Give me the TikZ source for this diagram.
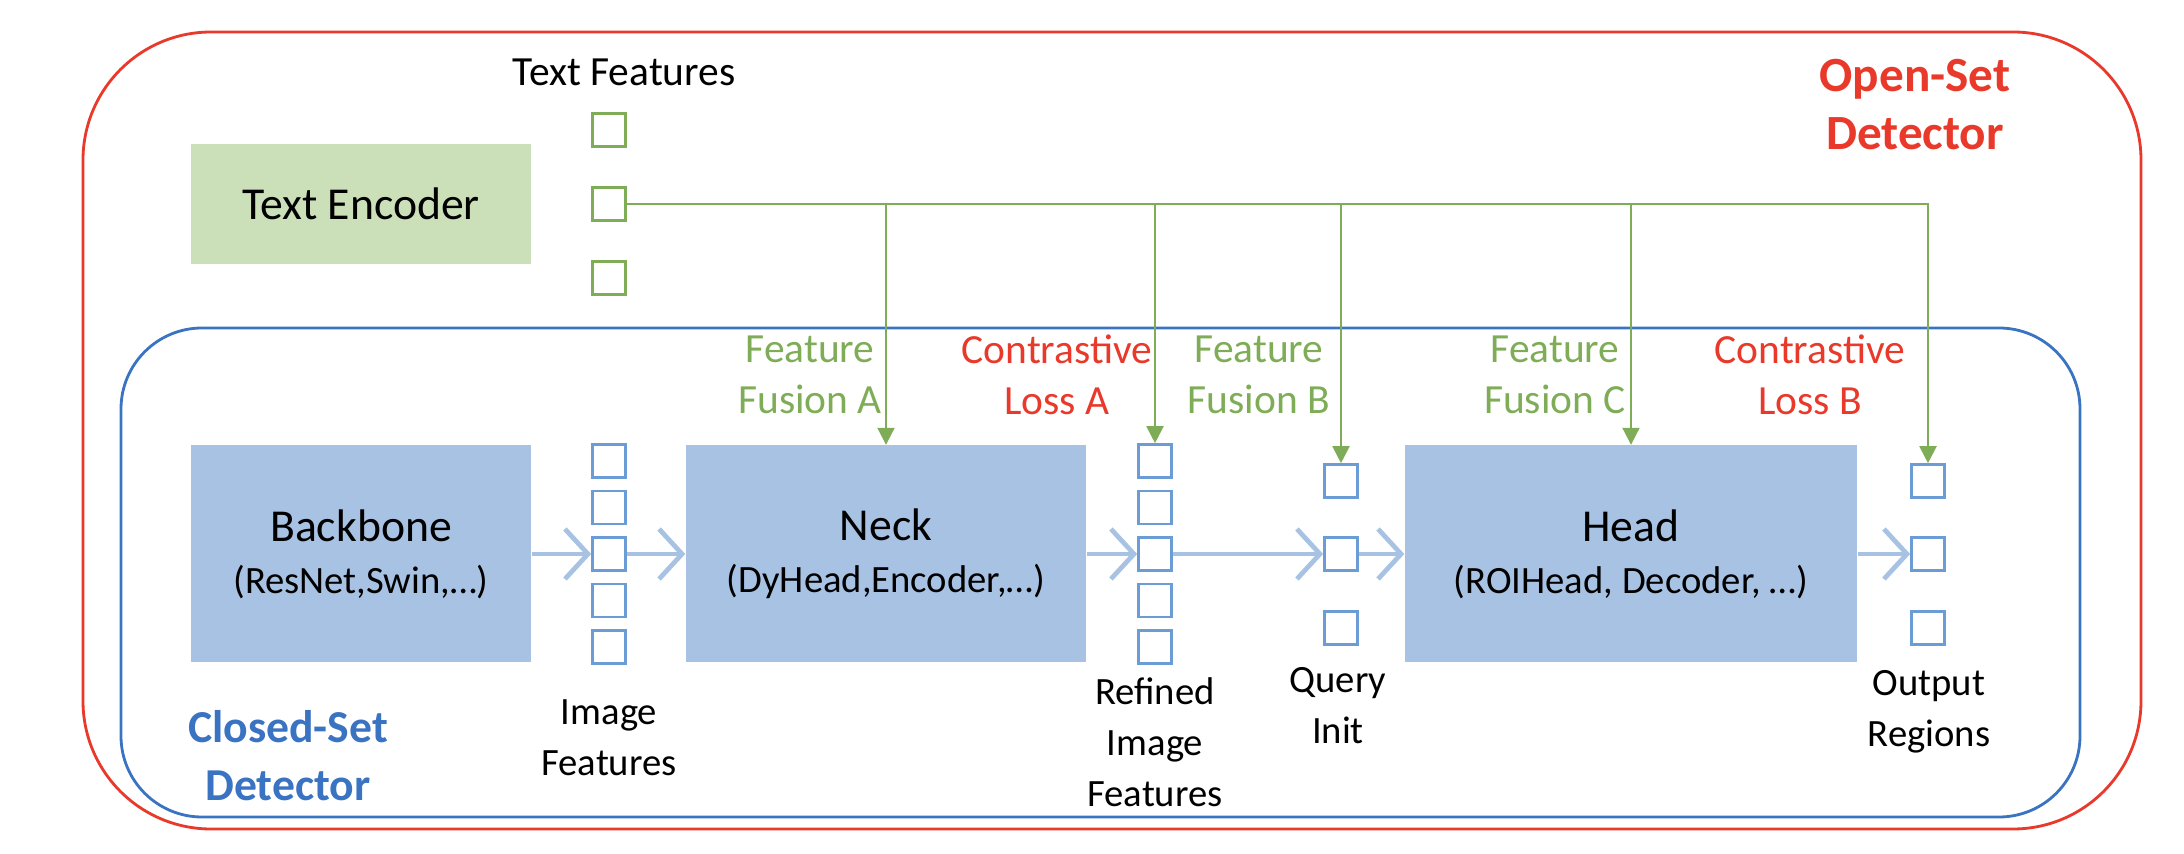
\documentclass[tikz,border=0pt]{standalone}
\usepackage{fontspec}
\setmainfont{Carlito}
\usepackage{tikz}
\usetikzlibrary{arrows.meta}
\definecolor{openred}{HTML}{E8392A}
\definecolor{closedblue}{HTML}{3A73C2}
\definecolor{stagefill}{HTML}{A7C2E3}
\definecolor{sqblue}{HTML}{6C9CD5}
\definecolor{fusegreen}{HTML}{7FAD57}
\definecolor{encfill}{HTML}{CBDFB8}
\tikzset{
  frame/.style={line width=0.8pt, rounded corners=#1},
  stage/.style={fill=stagefill, minimum height=2.17cm, inner sep=0pt, align=center,
    font=\fontsize{13}{14.8}\selectfont},
  enc/.style={fill=encfill, minimum width=3.4cm, minimum height=1.2cm, inner sep=0pt,
    font=\fontsize{13}{15}\selectfont},
  imgsq/.style={draw=sqblue, fill=white, line width=0.75pt, minimum size=0.33cm, inner sep=0pt},
  txtsq/.style={draw=fusegreen, fill=white, line width=0.75pt, minimum size=0.33cm, inner sep=0pt},
  flow/.style={draw=stagefill, line width=1.35pt, -{Straight Barb[length=2.3mm,width=5mm]}},
  fuse/.style={draw=fusegreen, line width=0.6pt, -{Triangle[length=1.7mm,width=1.7mm]}},
  lab/.style={align=center, font=\fontsize{11}{14.5}\selectfont},
  labg/.style={align=center, text=fusegreen, font=\fontsize{11.8}{14.5}\selectfont},
  labr/.style={align=center, text=openred, font=\fontsize{11.8}{14.5}\selectfont},
  title/.style={align=center, font=\fontsize{13}{16.5}\selectfont\bfseries},
}
\newcommand{\subt}{\fontsize{11}{14.8}\selectfont}

\begin{document}
\begin{tikzpicture}
  \useasboundingbox (0,0) rectangle (21.84,8.54);

  % detector frames
  \draw[frame=1.28cm, draw=openred] (0.83,0.25) rectangle (21.41,8.22);
  \draw[frame=0.81cm, draw=closedblue] (1.21,0.37) rectangle (20.80,5.26);
  \node[title, text=openred, font=\fontsize{14}{16.5}\selectfont\bfseries] (open) at (19.15,7.49) {Open-Set\\Detector};
  \node[title, text=closedblue] (closed) at (2.88,0.98) {Closed-Set\\Detector};

  % text branch
  \node[enc] (encoder) at (3.61,6.50) {Text Encoder};
  \node[txtsq] (tf1) at (6.09,7.24) {};
  \node[txtsq] (tf2) at (6.09,6.50) {};
  \node[txtsq] (tf3) at (6.09,5.76) {};
  \node[lab, font=\fontsize{11.8}{14.5}\selectfont] (tflab) at (6.24,7.82) {Text Features};

  % stages
  \node[stage, minimum width=3.4cm] (backbone) at (3.61,3.00) {Backbone\\\subt (ResNet,Swin,…)};
  \node[stage, minimum width=4.0cm] (neck) at (8.86,3.00) {Neck\\\subt (DyHead,Encoder,…)};
  \node[stage, minimum width=4.52cm] (head) at (16.31,3.00) {Head\\\subt (ROIHead, Decoder, …)};

  % image features
  \node[imgsq] (img1) at (6.09,3.93) {};
  \node[imgsq] (img2) at (6.09,3.465) {};
  \node[imgsq] (img3) at (6.09,3.00) {};
  \node[imgsq] (img4) at (6.09,2.535) {};
  \node[imgsq] (img5) at (6.09,2.07) {};
  \node[lab] (imglab) at (6.09,1.16) {Image\\Features};

  % refined image features
  \node[imgsq] (ref1) at (11.55,3.93) {};
  \node[imgsq] (ref2) at (11.55,3.465) {};
  \node[imgsq] (ref3) at (11.55,3.00) {};
  \node[imgsq] (ref4) at (11.55,2.535) {};
  \node[imgsq] (ref5) at (11.55,2.07) {};
  \node[lab] (reflab) at (11.55,1.12) {Refined\\Image\\Features};

  % queries
  \node[imgsq] (q1) at (13.41,3.73) {};
  \node[imgsq] (q2) at (13.41,3.00) {};
  \node[imgsq] (q3) at (13.41,2.26) {};
  \node[lab] (qlab) at (13.38,1.485) {Query\\Init};

  % outputs
  \node[imgsq] (out1) at (19.28,3.73) {};
  \node[imgsq] (out2) at (19.28,3.00) {};
  \node[imgsq] (out3) at (19.28,2.26) {};
  \node[lab] (outlab) at (19.29,1.42) {Output\\Regions};

  % main flow
  \draw[flow] (backbone) -- (img3);
  \draw[flow] (img3) -- (neck);
  \draw[flow] (neck) -- (ref3);
  \draw[flow] (ref3) -- (q2);
  \draw[flow] (q2) -- (head);
  \draw[flow] (head) -- (out2);

  % text feature links
  \draw[fuse] (tf2.east) -| (neck.north);
  \draw[fuse] (tf2.east) -| (ref1.north);
  \draw[fuse] (tf2.east) -| (q1.north);
  \draw[fuse] (tf2.east) -| (head.north);
  \draw[fuse] (tf2.east) -| (out1.north);
  \node[labg] (fa) at (8.10,4.79) {Feature\\Fusion A};
  \node[labr] (la) at (10.57,4.79) {Contrastive\\Loss A};
  \node[labg] (fb) at (12.59,4.79) {Feature\\Fusion B};
  \node[labg] (fc) at (15.55,4.79) {Feature\\Fusion C};
  \node[labr] (lb) at (18.10,4.79) {Contrastive\\Loss B};
\end{tikzpicture}
\end{document}
